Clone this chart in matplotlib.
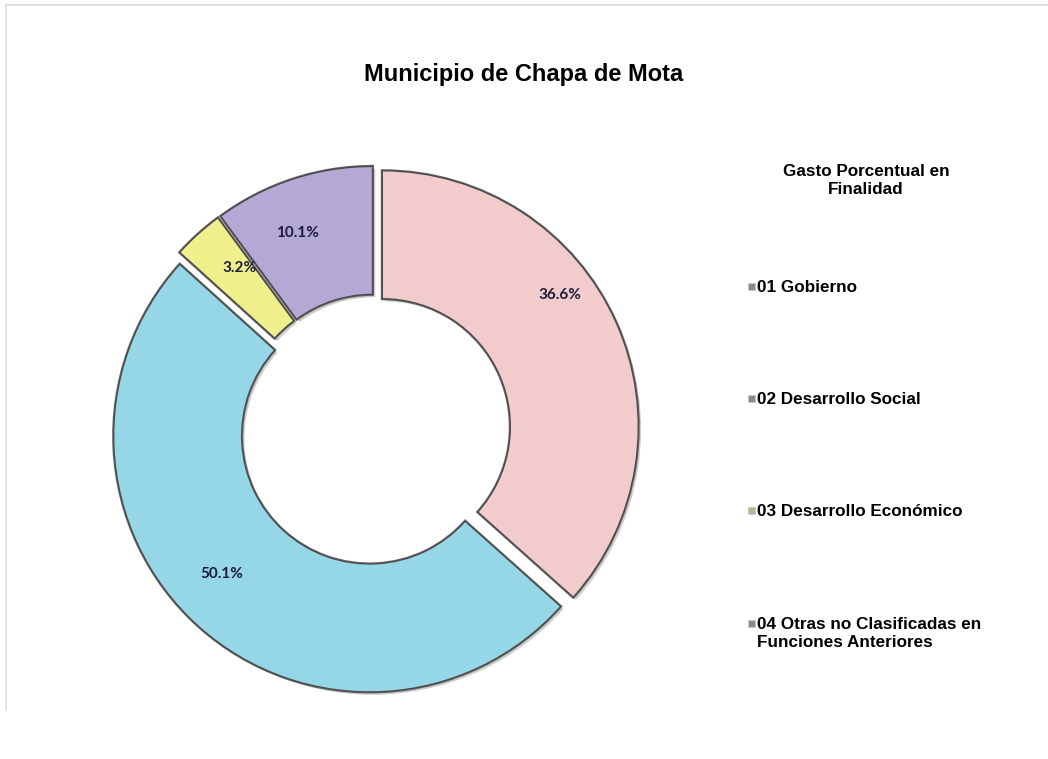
import matplotlib.pyplot as plt
import matplotlib.patheffects as pe
from matplotlib.patches import Rectangle
from matplotlib.lines import Line2D

# datos
categorias = ['01 Gobierno', '02 Desarrollo Social', '03 Desarrollo Económico',
              '04 Otras no Clasificadas en\nFunciones Anteriores']
porcentajes = [36.6, 50.1, 3.2, 10.1]
etiquetas = ['36.6%', '50.1%', '3.2%', '10.1%']

# estilo
colores = ['#F2CCCC', '#95D6E7', '#EFEF8C', '#B4A8D6']
marcadores = ['#8a8a8a', '#8a8a8a', '#b5b592', '#8a8a8a']
pos_etiquetas = [(185, 135), (-153, -144), (-135, 162), (-78, 197)]

W, H = 1048, 759
fig = plt.figure(figsize=(W / 100, H / 100), dpi=100)
fig.patch.set_facecolor('white')

# marco tenue
fig.add_artist(Line2D([6 / W, 1.0], [1 - 5 / H, 1 - 5 / H], color='#d9d9d9', lw=1.2,
                      transform=fig.transFigure))
fig.add_artist(Line2D([6 / W, 6 / W], [1 - 5 / H, 1 - 710 / H], color='#e0e0e0', lw=1.2,
                      transform=fig.transFigure))

# dona
ax = fig.add_axes([75 / W, (H - 730) / H, 600 / W, 600 / H])
wedges, _ = ax.pie(porcentajes, radius=256, startangle=90, counterclock=False,
                   colors=colores, explode=[8] * 4,
                   wedgeprops=dict(width=128, edgecolor='#4a4a4a', linewidth=1.0))
for w in wedges:
    w.set_path_effects([pe.SimplePatchShadow(offset=(2, -2), alpha=0.25),
                        pe.Stroke(linewidth=2.2, foreground='#6a6a6a'),
                        pe.Normal()])
ax.set_xlim(-300, 300)
ax.set_ylim(-300, 300)
ax.set_aspect('equal')
ax.axis('off')

for (x, y), txt in zip(pos_etiquetas, etiquetas):
    ax.text(x, y, txt, ha='center', va='center', fontsize=11, fontweight='bold',
            family='Lato', color='#1c1c3a')

# titulo
fig.text(0.5, 1 - 75 / H, 'Municipio de Chapa de Mota', ha='center', va='center',
         fontsize=17, fontweight='bold', family='Liberation Sans')

# leyenda
fig.text(866 / W, 1 - 181 / H, 'Gasto Porcentual en\nFinalidad', ha='center', va='center',
         fontsize=12.3, fontweight='bold', family='Liberation Sans', linespacing=1.25)
ys = [287, 399, 511, 624]
for y, cat, mc in zip(ys, categorias, marcadores):
    fig.add_artist(Rectangle((748 / W, 1 - (y + 3) / H), 7 / W, 7 / H,
                             facecolor=mc, edgecolor='#c8c8c8', lw=0.6,
                             transform=fig.transFigure))
    if '\n' in cat:
        fig.text(757 / W, 1 - (y - 7) / H, cat, ha='left', va='top',
                 fontsize=12.3, fontweight='bold', family='Liberation Sans', linespacing=1.25)
    else:
        fig.text(757 / W, 1 - y / H, cat, ha='left', va='center',
                 fontsize=12.3, fontweight='bold', family='Liberation Sans')

fig.savefig('out.png', dpi=100, facecolor='white')
